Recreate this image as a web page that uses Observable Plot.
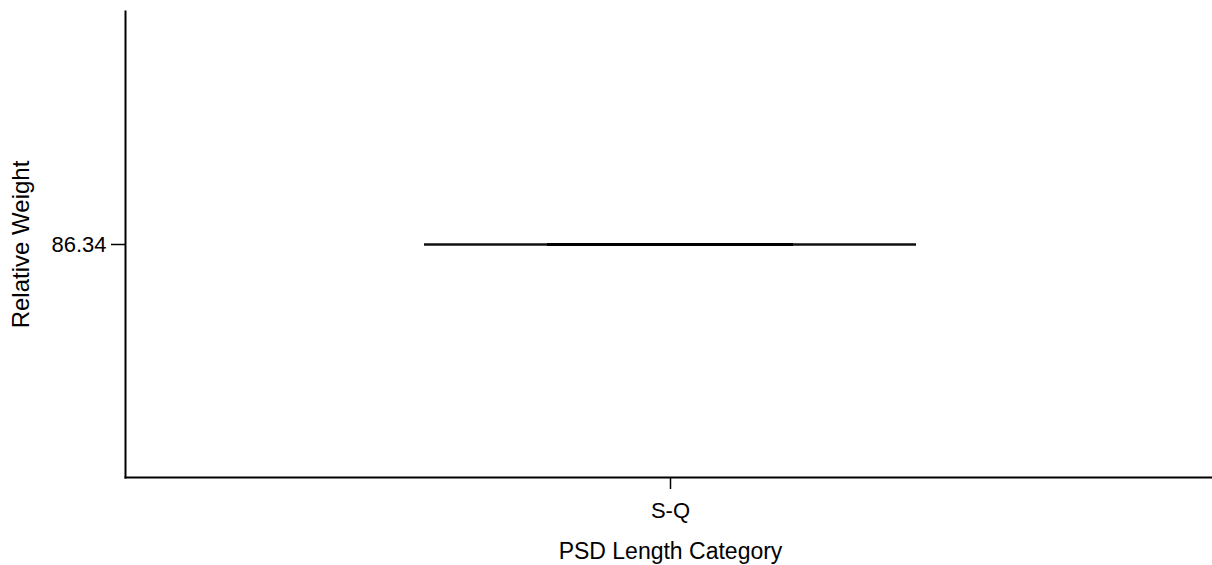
<!DOCTYPE html>
<html>
<head>
<meta charset="utf-8">
<script src="https://cdn.jsdelivr.net/npm/d3@7"></script>
<script src="https://cdn.jsdelivr.net/npm/@observablehq/plot@0.6"></script>
<style>
  html, body { margin: 0; padding: 0; background: #fff; }
  #chart { width: 1212px; height: 565px; }
</style>
</head>
<body>
<div id="chart"></div>
<script>
// Data
const categories = ["S-Q"];
const minValues = [86.34];
const q1Values = [86.34];
const medianValues = [86.34];
const q3Values = [86.34];
const maxValues = [86.34];
const yTickValues = [86.34];
const xTitle = "PSD Length Category";
const yTitle = "Relative Weight";

const rows = categories.map((c, i) => ({
  cat: c, min: minValues[i], q1: q1Values[i], med: medianValues[i], q3: q3Values[i], max: maxValues[i]
}));

const center = medianValues[0];
const yDomain = [center - 1, center + 1];

const plot = Plot.plot({
  width: 1212,
  height: 565,
  marginLeft: 125,
  marginRight: -3,
  marginTop: 11,
  marginBottom: 88,
  style: {fontFamily: "'Liberation Sans', Arial, sans-serif", fontSize: "22px", color: "#000", background: "#fff"},
  x: {type: "band", domain: categories, padding: 0.378},
  y: {domain: yDomain},
  marks: [
    Plot.frame({anchor: "left", stroke: "#000", strokeWidth: 2}),
    Plot.frame({anchor: "bottom", stroke: "#000", strokeWidth: 2}),
    // tick labels
    Plot.axisX({tickSize: 12, tickPadding: 13, label: null, fontSize: 22, strokeWidth: 1.5}),
    Plot.axisY({ticks: yTickValues, tickFormat: d => d.toFixed(2), tickSize: 14, tickPadding: 5, label: null, fontSize: 22, strokeWidth: 1.5}),
    // axis titles
    Plot.axisX({ticks: [], tickSize: 0, label: xTitle, labelAnchor: "center", labelOffset: 81, labelArrow: "none", fontSize: 23}),
    Plot.axisY({ticks: [], tickSize: 0, label: yTitle, labelAnchor: "center", labelOffset: 114, labelArrow: "none", fontSize: 24}),
    // whisker caps
    Plot.tickY(rows, {x: "cat", y: "min", stroke: "#111", strokeWidth: 2}),
    Plot.tickY(rows, {x: "cat", y: "max", stroke: "#111", strokeWidth: 2}),
    // box edges and median
    Plot.tickY(rows, {x: "cat", y: "q1", stroke: "#000", strokeWidth: 2, inset: 123}),
    Plot.tickY(rows, {x: "cat", y: "q3", stroke: "#000", strokeWidth: 2, inset: 123}),
    Plot.tickY(rows, {x: "cat", y: "med", stroke: "#000", strokeWidth: 3, inset: 123})
  ]
});
document.getElementById("chart").appendChild(plot);
</script>
</body>
</html>
